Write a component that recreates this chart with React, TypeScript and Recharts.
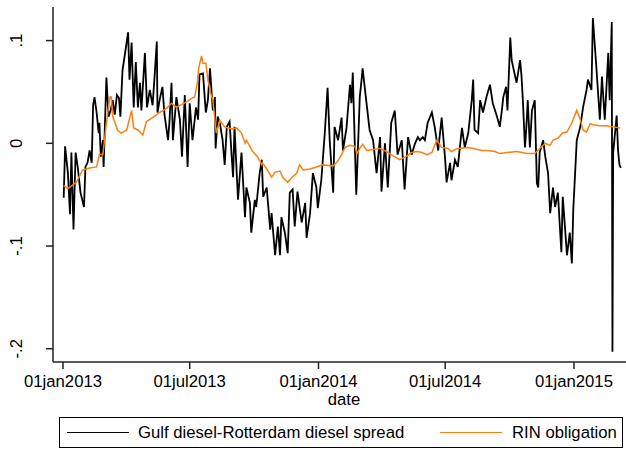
import React from 'react';
import { LineChart, Line, XAxis, YAxis } from 'recharts';

// days since 01jan2013
const spreadDays = [
  1, 3, 7, 10, 12, 15, 18, 21, 25, 30,
  32, 35, 38, 41, 43, 45, 48, 51, 52, 54,
  57, 58, 62, 65, 68, 71, 74, 77, 80, 82,
  85, 90, 93, 95, 98, 101, 104, 107, 110, 112,
  117, 120, 124, 128, 131, 134, 135, 138, 142, 145,
  150, 152, 155, 157, 162, 167, 170, 174, 178, 181,
  185, 190, 193, 195, 200, 204, 207, 210, 214, 217,
  218, 221, 224, 228, 231, 234, 238, 241, 243, 245,
  250, 255, 260, 262, 267, 269, 274, 276, 281, 284,
  286, 291, 296, 298, 303, 307, 310, 312, 317, 321,
  324, 328, 331, 335, 341, 346, 348, 353, 357, 362,
  364, 369, 374, 378, 381, 386, 388, 393, 398, 400,
  405, 410, 412, 414, 417, 419, 424, 427, 428, 434,
  438, 443, 448, 453, 455, 460, 464, 469, 474, 478,
  484, 488, 493, 498, 503, 507, 510, 514, 517, 521,
  527, 531, 536, 541, 546, 548, 553, 555, 560, 564,
  570, 574, 579, 584, 586, 588, 593, 596, 600, 605,
  610, 614, 620, 624, 627, 629, 633, 635, 639, 641,
  646, 648, 653, 655, 657, 660, 662, 664, 667, 670,
  674, 677, 679, 681, 686, 689, 693, 696, 700, 703,
  707, 712, 714, 720, 724, 727, 729, 734, 739, 743,
  748, 750, 755, 757, 762, 767, 770, 774, 779, 781,
  784, 785, 786, 791, 793, 795, 797,
];

const spreadValues = [
  -0.053, -0.003, -0.029, -0.069, -0.009, -0.084, -0.009, -0.023, -0.048, -0.062,
  -0.023, -0.019, -0.007, -0.019, 0.037, 0.045, 0.03, 0.01, 0.02, -0.013,
  0.003, -0.023, 0.064, 0.026, 0.032, 0.042, 0.028, 0.047, 0.044, 0.026,
  0.071, 0.094, 0.108, 0.062, 0.098, 0.035, 0.079, 0.035, 0.059, 0.032,
  0.088, 0.035, 0.052, 0.037, 0.067, 0.099, 0.03, 0.042, 0.055, 0.028,
  0.003, 0.02, 0.059, 0.003, 0.045, 0.023, -0.013, 0.047, -0.023, 0.039,
  0.003, 0.035, 0.023, 0.067, 0.068, 0.03, 0.042, 0.073, 0.032, 0.045,
  -0.005, 0.026, 0.02, 0.003, -0.021, 0.016, 0.021, -0.013, -0.033, 0.016,
  -0.055, -0.009, -0.072, -0.043, -0.058, -0.087, -0.055, -0.062, -0.029, -0.016,
  -0.052, -0.043, -0.084, -0.068, -0.109, -0.081, -0.109, -0.072, -0.087, -0.107,
  -0.048, -0.045, -0.081, -0.047, -0.077, -0.058, -0.092, -0.068, -0.029, -0.043,
  -0.063, -0.036, 0.01, 0.054, 0.003, -0.048, 0.016, 0.003, 0.025, -0.007,
  0.015, 0.057, 0.039, 0.069, -0.004, -0.05, 0.045, 0.065, 0.073, 0.037,
  0.013, 0.003, -0.029, 0.006, -0.047, 0.0, -0.043, 0.02, 0.032, -0.011,
  0.003, -0.045, 0.006, -0.011, 0.0, 0.006, 0.003, 0.006, 0.003, 0.02,
  0.03, 0.016, -0.007, 0.025, -0.016, -0.038, -0.019, -0.036, -0.016, -0.023,
  0.015, -0.004, 0.01, 0.042, 0.062, 0.013, 0.01, 0.042, 0.03, 0.045,
  0.057, 0.039, 0.026, 0.016, 0.032, 0.045, 0.055, 0.032, 0.103, 0.081,
  0.065, 0.059, 0.081, 0.066, 0.042, -0.004, 0.016, 0.042, -0.004, 0.032,
  0.042, -0.039, -0.043, -0.009, 0.003, -0.013, -0.029, -0.068, -0.043, -0.062,
  -0.048, -0.106, -0.052, -0.109, -0.087, -0.117, -0.065, 0.003, 0.016, 0.035,
  0.052, 0.062, 0.052, 0.122, 0.074, 0.023, 0.065, 0.023, 0.088, 0.042,
  0.118, -0.203, -0.009, 0.027, -0.007, -0.021, -0.024,
];

const rinDays = [
  1, 7, 19, 28, 38, 48, 52, 57, 62, 67,
  69, 71, 78, 83, 91, 98, 101, 107, 114, 119,
  128, 138, 148, 155, 162, 167, 176, 184, 188, 192,
  194, 198, 200, 204, 207, 211, 214, 219, 224, 231,
  241, 248, 255, 260, 262, 271, 278, 284, 285, 292,
  298, 303, 310, 314, 321, 326, 334, 338, 343, 353,
  362, 371, 386, 393, 398, 403, 410, 417, 420, 424,
  428, 434, 443, 453, 462, 471, 481, 490, 498, 506,
  513, 520, 527, 534, 541, 550, 555, 564, 579, 586,
  598, 606, 617, 624, 634, 648, 663, 674, 681, 689,
  696, 700, 707, 714, 720, 727, 734, 739, 743, 748,
  753, 757, 767, 777, 786, 796,
];

const rinValues = [
  -0.041, -0.044, -0.038, -0.026, -0.024, -0.023, -0.011, -0.011, 0.02, 0.045,
  0.045, 0.026, 0.013, 0.01, 0.013, 0.032, 0.015, 0.013, 0.008, 0.021,
  0.025, 0.03, 0.034, 0.039, 0.035, 0.037, 0.04, 0.044, 0.045, 0.059,
  0.074, 0.085, 0.078, 0.078, 0.062, 0.049, 0.042, 0.01, 0.022, 0.016,
  0.014, 0.015, 0.01, 0.0, 0.003, -0.008, -0.013, -0.021, -0.019, -0.026,
  -0.033, -0.028, -0.027, -0.033, -0.038, -0.034, -0.029, -0.021, -0.026, -0.025,
  -0.023, -0.021, -0.022, -0.017, -0.011, -0.004, -0.002, -0.003, -0.01, -0.005,
  -0.001, -0.007, -0.006, -0.005, -0.008, -0.012, -0.016, -0.013, -0.009, -0.008,
  -0.009, -0.011, -0.009, 0.003, -0.004, -0.005, -0.008, -0.005, -0.004, -0.005,
  -0.007, -0.007, -0.008, -0.01, -0.009, -0.008, -0.01, -0.01, -0.005, 0.0,
  -0.002, 0.003, 0.005, 0.01, 0.011, 0.02, 0.032, 0.023, 0.013, 0.011,
  0.019, 0.018, 0.017, 0.017, 0.016, 0.015,
];

const xTickDays = [0, 181, 365, 546, 730];
const xTickLabels = ['01jan2013', '01jul2013', '01jan2014', '01jul2014', '01jan2015'];
const yTicks = [-0.2, -0.1, 0, 0.1];
const yTickLabels = ['-.2', '-.1', '0', '.1'];

const FONT = '"Liberation Sans", Arial, Helvetica, sans-serif';
const FS = 16.7;
const BLACK = '#000000';
const ORANGE = '#ff7f0e';

const spreadData = spreadDays.map((d, i) => ({ day: d, v: spreadValues[i] }));
const rinData = rinDays.map((d, i) => ({ day: d, v: rinValues[i] }));

function YTick(props: any) {
  const { y, payload } = props;
  const idx = yTicks.indexOf(payload.value);
  const label = idx >= 0 ? yTickLabels[idx] : String(payload.value);
  const bx = 22;
  return (
    <text
      x={bx}
      y={y}
      transform={`rotate(-90 ${bx} ${y})`}
      textAnchor="middle"
      fontSize={FS}
      fontFamily={FONT}
      fill="#000"
    >
      {label}
    </text>
  );
}

function ChartLegend() {
  return (
    <div
      style={{
        position: 'absolute',
        left: 59,
        top: 417,
        width: 564,
        height: 31,
        boxSizing: 'border-box',
        border: '1px solid #000',
        fontFamily: FONT,
        fontSize: FS,
        color: '#000',
      }}
    >
      <div style={{ position: 'absolute', left: 7, top: 14, width: 62, height: 0, borderTop: `1.5px solid ${BLACK}` }} />
      <div style={{ position: 'absolute', left: 78, top: 5, whiteSpace: 'nowrap', lineHeight: '19px' }}>
        Gulf diesel-Rotterdam diesel spread
      </div>
      <div style={{ position: 'absolute', left: 380, top: 14, width: 62, height: 0, borderTop: `1.5px solid ${ORANGE}` }} />
      <div style={{ position: 'absolute', left: 452, top: 5, whiteSpace: 'nowrap', lineHeight: '19px' }}>
        RIN obligation
      </div>
    </div>
  );
}

export default function App() {
  return (
    <div
      style={{
        position: 'absolute',
        left: 0,
        top: 0,
        width: 626,
        height: 449,
        overflow: 'hidden',
        background: '#fff',
        fontFamily: FONT,
      }}
    >
      <LineChart width={660} height={449} margin={{ top: 7, right: 25, bottom: 44, left: 8 }}>
        <XAxis
          dataKey="day"
          type="number"
          domain={[-14.3, 817.2]}
          allowDataOverflow
          ticks={xTickDays}
          tickFormatter={(v: number) => xTickLabels[xTickDays.indexOf(v)] ?? ''}
          tick={{ fill: '#000', fontSize: FS, fontFamily: FONT }}
          tickSize={7}
          tickMargin={6}
          height={43}
          stroke="#222"
          strokeWidth={1.5}
          label={{ value: 'date', position: 'insideBottom', offset: 0, fill: '#000', fontSize: FS, fontFamily: FONT }}
        />
        <XAxis
          xAxisId="top"
          orientation="top"
          type="number"
          domain={[-14.3, 817.2]}
          height={0}
          tick={false}
          tickLine={false}
          stroke="#222"
          strokeWidth={1.5}
        />
        <YAxis
          type="number"
          domain={[-0.2129, 0.1327]}
          allowDataOverflow
          ticks={yTicks}
          tick={<YTick />}
          tickSize={7}
          width={45}
          stroke="#222"
          strokeWidth={1.5}
        />
        <Line
          data={spreadData}
          dataKey="v"
          type="linear"
          stroke={BLACK}
          strokeWidth={1.8}
          dot={false}
          isAnimationActive={false}
        />
        <Line
          data={rinData}
          dataKey="v"
          type="linear"
          stroke={ORANGE}
          strokeWidth={1.5}
          dot={false}
          isAnimationActive={false}
        />
      </LineChart>
      <ChartLegend />
    </div>
  );
}
